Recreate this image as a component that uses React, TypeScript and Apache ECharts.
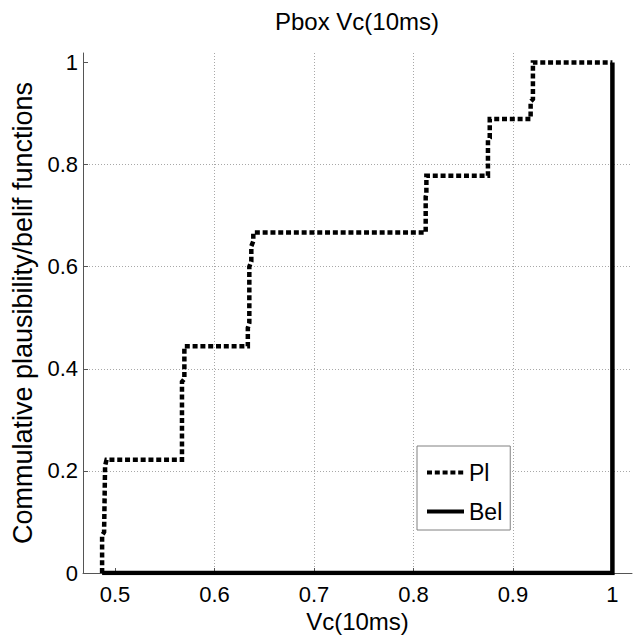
import React, { useEffect, useRef } from "react";
import * as echarts from "echarts";

const titleText = "Pbox Vc(10ms)";
const xName = "Vc(10ms)";
const yName = "Commulative plausibility/belif functions";
const seriesNames = ["Pl", "Bel"];
const xTicks = [0.5, 0.6, 0.7, 0.8, 0.9, 1.0];
const yTicks = [0, 0.2, 0.4, 0.6, 0.8, 1.0];

// Plausibility (dotted step curve)
const plX = [
  0.487, 0.487, 0.489, 0.490, 0.4915, 0.5673, 0.5673, 0.5697, 0.5697,
  0.6335, 0.6335, 0.635, 0.635, 0.637, 0.637, 0.639, 0.639,
  0.8123, 0.8123, 0.813, 0.813, 0.8749, 0.8749, 0.8767, 0.8767,
  0.9178, 0.9178, 0.9201, 0.9201, 1.0,
];
const plY = [
  0, 0.074, 0.08, 0.21, 0.222, 0.222, 0.3745, 0.38, 0.444,
  0.444, 0.48, 0.49, 0.6, 0.61, 0.64, 0.65, 0.667,
  0.667, 0.737, 0.742, 0.778, 0.778, 0.848, 0.852, 0.889,
  0.889, 0.9235, 0.928, 1.0, 1.0,
];

// Belief (solid step curve)
const belX = [0.487, 1.0, 1.0];
const belY = [0, 0, 1.0];

const FONT = "'Liberation Sans', Arial, Helvetica, sans-serif";

export default function App() {
  const ref = useRef<HTMLDivElement>(null);

  useEffect(() => {
    document.body.style.margin = "0";
    if (!ref.current) return;
    const chart = echarts.init(ref.current, undefined, { renderer: "svg" });

    const plData = plX.map((x, i) => [x, plY[i]]);
    const belData = belX.map((x, i) => [x, belY[i]]);

    const axisColor = "#555555";
    const gridColor = "#a8a8a8";

    chart.setOption({
      animation: false,
      backgroundColor: "#ffffff",
      textStyle: { fontFamily: FONT, color: "#000" },
      title: {
        text: titleText,
        left: 357,
        top: 9,
        padding: 0,
        textAlign: "center",
        textStyle: { fontSize: 24, fontWeight: "normal", color: "#000", fontFamily: FONT },
      },
      grid: { left: 83, right: 5, top: 53, bottom: 70, containLabel: false },
      legend: {
        data: seriesNames,
        orient: "vertical",
        left: 417,
        top: 446,
        padding: [15, 8, 7, 8],
        itemGap: 16,
        itemWidth: 37,
        itemHeight: 14,
        borderColor: "#808080",
        borderWidth: 1,
        backgroundColor: "#ffffff",
        selectedMode: false,
        itemStyle: { opacity: 0, borderWidth: 0 },
        lineStyle: { width: 4 },
        textStyle: { fontSize: 23, color: "#000", fontFamily: FONT },
      },
      xAxis: {
        type: "value",
        min: 0.4678,
        max: 1.0197,
        name: xName,
        nameLocation: "middle",
        nameGap: 30,
        nameTextStyle: { fontSize: 24, color: "#000", fontFamily: FONT },
        axisLine: { show: true, lineStyle: { color: axisColor, width: 1 } },
        axisTick: {
          show: true,
          inside: true,
          length: 5,
          customValues: xTicks,
          lineStyle: { color: axisColor },
        },
        axisLabel: {
          customValues: xTicks,
          margin: 10,
          fontSize: 22,
          color: "#000",
          fontFamily: FONT,
        },
        splitLine: {
          show: true,
          showMinLine: false,
          showMaxLine: false,
          lineStyle: { color: gridColor, width: 1, type: [1, 2] },
        },
      },
      yAxis: {
        type: "value",
        min: 0,
        max: 1.0184,
        name: yName,
        nameLocation: "middle",
        nameGap: 40,
        nameTextStyle: { fontSize: 27, color: "#000", fontFamily: FONT },
        axisLine: { show: true, lineStyle: { color: axisColor, width: 1 } },
        axisTick: {
          show: true,
          inside: true,
          length: 5,
          customValues: yTicks,
          lineStyle: { color: axisColor },
        },
        axisLabel: {
          customValues: yTicks,
          margin: 5,
          fontSize: 22,
          color: "#000",
          fontFamily: FONT,
        },
        splitLine: {
          show: true,
          showMinLine: false,
          showMaxLine: false,
          lineStyle: { color: gridColor, width: 1, type: [1, 2] },
        },
      },
      series: [
        {
          name: seriesNames[0],
          type: "line",
          data: plData,
          symbol: "none",
          z: 2,
          lineStyle: { color: "#000", width: 4.5, type: [5, 2.8], cap: "butt", join: "miter" },
          itemStyle: { color: "#000" },
        },
        {
          name: seriesNames[1],
          type: "line",
          data: belData,
          symbol: "none",
          z: 3,
          lineStyle: { color: "#000", width: 4.5, type: "solid", cap: "butt", join: "miter" },
          itemStyle: { color: "#000" },
        },
      ],
    });

    return () => {
      chart.dispose();
    };
  }, []);

  return (
    <div
      ref={ref}
      style={{ position: "fixed", left: 0, top: 0, width: 637, height: 643, background: "#fff" }}
    />
  );
}
